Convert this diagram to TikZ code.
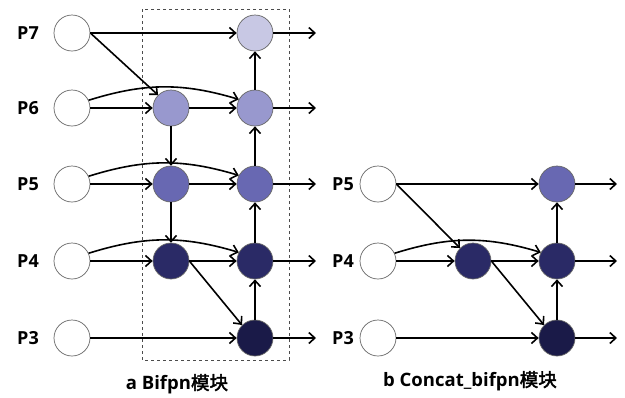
\documentclass[tikz,border=0pt]{standalone}
\usepackage{fontspec}
\setmainfont{Open Sans}
\newfontfamily\cjk{Noto Sans CJK SC}[AutoFakeBold=2.5]
\usetikzlibrary{arrows.meta}
\definecolor{lv7}{RGB}{200,200,228}
\definecolor{lv6}{RGB}{152,152,206}
\definecolor{lv5}{RGB}{104,104,178}
\definecolor{lv4}{RGB}{42,42,102}
\definecolor{lv3}{RGB}{26,26,72}

\begin{document}
\begin{tikzpicture}
 [x=1pt,y=-1pt,>={Straight Barb[length=6pt,width=11pt]},
  feat/.style={circle,draw=black!60,line width=0.7pt,minimum size=36pt,inner sep=0pt},
  lbl/.style={font=\bfseries\fontsize{18}{18}\selectfont},
  captxt/.style={font=\bfseries\fontsize{18.5}{18.5}\selectfont},
  flow/.style={->,line width=1.6pt}]
 \useasboundingbox (0,0) rectangle (625,397);
 \draw[dashed,black!70,line width=0.6pt] (142,9) rectangle (289,360);
 \foreach \name/\y in {7/33,6/108,5/184,4/261,3/338}{
  \node[lbl] (l\name) at (28,\y) {P\name};
  \node[feat] (i\name) at (72,\y) {};
 }
 \foreach \name/\y/\c in {7/33/lv7,6/108/lv6,5/184/lv5,4/261/lv4,3/338/lv3}{
  \node[feat,fill=\c] (o\name) at (255,\y) {};
  \coordinate (e\name) at (316,\y);
 }
 \foreach \name/\y/\c in {6/108/lv6,5/184/lv5,4/261/lv4}
  \node[feat,fill=\c] (m\name) at (171,\y) {};
 \foreach \name/\y in {5/184,4/261,3/338}{
  \node[lbl] (bl\name) at (343,\y) {P\name};
  \node[feat] (bi\name) at (378,\y) {};
  \coordinate (be\name) at (617,\y);
 }
 \node[feat,fill=lv4] (bm4) at (473,261) {};
 \foreach \name/\y/\c in {5/184/lv5,4/261/lv4,3/338/lv3}
  \node[feat,fill=\c] (bo\name) at (557,\y) {};
 \node[captxt] (capa) at (177,384) {a Bifpn{\cjk 模块}};
 \node[captxt] (capb) at (470,381) {b Concat\_bifpn{\cjk 模块}};

 \foreach \from/\to in {i7/o7,i6/m6,i5/m5,i4/m4,i3/o3,m6/o6,m5/o5,m4/o4,m6/m5,m5/m4,
   o3/o4,o4/o5,o5/o6,o6/o7,o7/e7,o6/e6,o5/e5,o4/e4,o3/e3}
  \draw[flow] (\from) -- (\to);
 \draw[flow] (i7.east) -- (m6.north west);
 \draw[flow] (m4.east) -- (o3.north west);
 \foreach \n in {6,5,4}
  \draw[flow] (i\n.25) to[bend left=17] (o\n.152);

 \foreach \from/\to in {bi5/bo5,bi4/bm4,bi3/bo3,bm4/bo4,bo3/bo4,bo4/bo5,bo5/be5,bo4/be4,bo3/be3}
  \draw[flow] (\from) -- (\to);
 \draw[flow] (bi5.east) -- (bm4.north west);
 \draw[flow] (bm4.east) -- (bo3.north west);
 \draw[flow] (bi4.25) to[bend left=17] (bo4.152);
\end{tikzpicture}
\end{document}
